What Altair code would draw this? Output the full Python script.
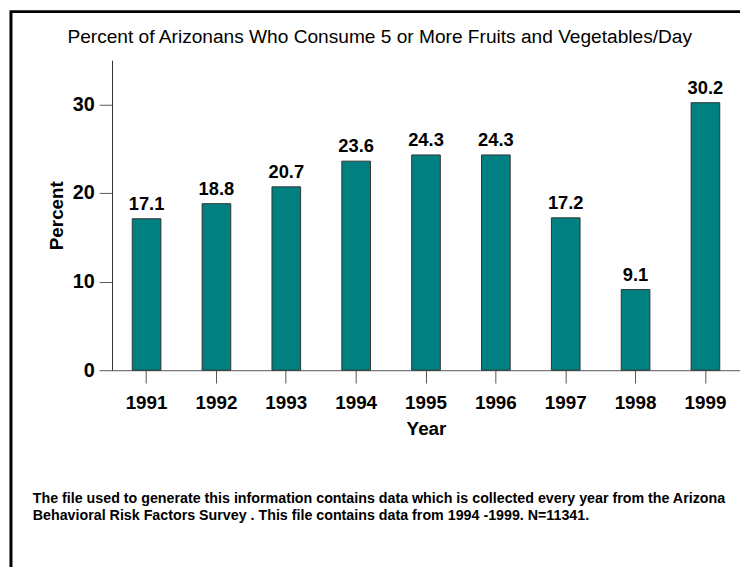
import altair as alt
import pandas as pd

years = ["1991", "1992", "1993", "1994", "1995", "1996", "1997", "1998", "1999"]
percent = [17.1, 18.8, 20.7, 23.6, 24.3, 24.3, 17.2, 9.1, 30.2]
y_ticks = [0, 10, 20, 30]

title_text = "Percent of Arizonans Who Consume 5 or More Fruits and Vegetables/Day"
footer_line1 = "The file used to generate this information contains data which is collected every year from the Arizona"
footer_line2 = "Behavioral Risk Factors Survey . This file contains data from 1994 -1999. N=11341."

df = pd.DataFrame({"Year": years, "Percent": percent})
FONT = "Liberation Sans"

x_enc = alt.X(
    "Year:N",
    sort=years,
    scale=alt.Scale(paddingInner=0.59, paddingOuter=0.29),
    axis=alt.Axis(
        title="Year", labelAngle=0, labelFont=FONT, labelFontSize=19, labelFontWeight="bold",
        labelColor="black", labelPadding=11, tickSize=13, tickColor="#555555", domainColor="#555555",
        titleFont=FONT, titleFontSize=19, titleFontWeight="bold", titleColor="black", titlePadding=7,
    ),
)
y_enc = alt.Y(
    "Percent:Q",
    scale=alt.Scale(domain=[0, 35], nice=False),
    axis=alt.Axis(
        title="Percent", values=y_ticks, grid=False, labelFont=FONT, labelFontSize=20,
        labelFontWeight="bold", labelColor="black", labelPadding=5, tickSize=13,
        tickColor="#555555", domainColor="#333333",
        titleFont=FONT, titleFontSize=19, titleFontWeight="bold", titleColor="black", titlePadding=6,
    ),
)

bars = alt.Chart(df).mark_bar(color="#008080", stroke="#333333", strokeWidth=1).encode(x=x_enc, y=y_enc)
labels = alt.Chart(df).mark_text(
    font=FONT, fontSize=18.5, fontWeight="bold", color="black", baseline="alphabetic", dy=-9
).encode(x=alt.X("Year:N", sort=years), y="Percent:Q", text=alt.Text("Percent:Q", format=".1f"))


def text_layer(txt, x, y, size, weight):
    return alt.Chart(pd.DataFrame({"t": [txt]})).mark_text(
        font=FONT, fontSize=size, fontWeight=weight, color="black", align="left", baseline="middle"
    ).encode(text="t:N", x=alt.value(x), y=alt.value(y))


title = text_layer(title_text, -45, -23, 19.3, "normal")
foot1 = text_layer(footer_line1, -80, 443, 14.4, "bold")
foot2 = text_layer(footer_line2, -80, 460, 14.4, "bold")

frame = alt.Chart(pd.DataFrame({"a": [0]})).mark_rect(
    fill=None, stroke="black", strokeWidth=3
).encode(x=alt.value(-102), x2=alt.value(900), y=alt.value(-49), y2=alt.value(900))

chart = alt.layer(frame, bars, labels, title, foot1, foot2).properties(
    width=634, height=313,
    autosize=alt.AutoSizeParams(type="none"),
    padding={"left": 105, "top": 50, "right": 0, "bottom": 196},
).configure_view(stroke=None)

chart.save("out.html", embed_options={"renderer": "svg", "actions": False})
